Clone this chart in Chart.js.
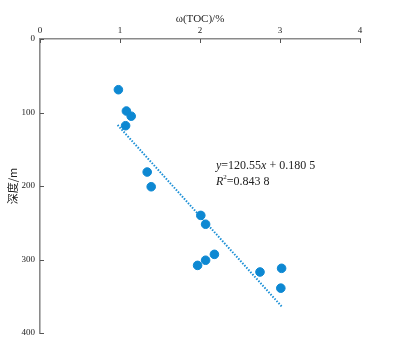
<!DOCTYPE html>
<html>
<head>
<meta charset="utf-8">
<script src="https://cdn.jsdelivr.net/npm/chart.js@4.4.1/dist/chart.umd.min.js"></script>
<style>
  html, body { margin: 0; padding: 0; background: #fff; }
  #wrap { width: 396px; height: 348px; position: relative; }
</style>
</head>
<body>
<div id="wrap"><canvas id="chart"></canvas></div>
<script>
// TOC (%) vs depth (m)
const tocValues = [0.98, 1.08, 1.14, 1.07, 1.34, 1.39, 2.01, 2.07, 1.97, 2.07, 2.18, 2.75, 3.02, 3.01];
const depthValues = [69, 98, 105, 118, 181, 201, 240, 252, 308, 301, 293, 317, 312, 339];
// ends of the dotted trend line
const trendToc = [0.97, 3.03];
const trendDepth = [117, 365];
const xTicks = [0, 1, 2, 3, 4];
const yTicks = [0, 100, 200, 300, 400];

const pointColor = '#0d88d2';
const axisColor = '#8a8a8a';
const serif = '"Liberation Serif", "DejaVu Serif", serif';

const points = tocValues.map((v, i) => ({ x: v, y: depthValues[i] }));
const trend = trendToc.map((v, i) => ({ x: v, y: trendDepth[i] }));

// small inward ticks plus the equation text
const extrasPlugin = {
    id: 'extras',
    afterDraw(chart) {
        const ctx = chart.ctx;
        const xs = chart.scales.x;
        const ys = chart.scales.y;
        ctx.save();
        ctx.strokeStyle = '#555';
        ctx.lineWidth = 1;
        xTicks.forEach(t => {
            const px = Math.round(xs.getPixelForValue(t)) + 0.5;
            ctx.beginPath();
            ctx.moveTo(px, ys.top);
            ctx.lineTo(px, ys.top + 4);
            ctx.stroke();
        });
        yTicks.forEach(t => {
            const py = Math.round(ys.getPixelForValue(t)) + 0.5;
            ctx.beginPath();
            ctx.moveTo(xs.left, py);
            ctx.lineTo(xs.left + 4, py);
            ctx.stroke();
        });

        // regression text
        ctx.fillStyle = '#222';
        ctx.textBaseline = 'middle';
        const tx = xs.getPixelForValue(2.2);
        const ty = ys.getPixelForValue(172);
        ctx.font = 'italic 12px ' + serif;
        ctx.fillText('y', tx, ty);
        let w = ctx.measureText('y').width;
        ctx.font = '12px ' + serif;
        ctx.fillText('=120.55', tx + w, ty);
        w += ctx.measureText('=120.55').width;
        ctx.font = 'italic 12px ' + serif;
        ctx.fillText('x', tx + w, ty);
        w += ctx.measureText('x').width;
        ctx.font = '12px ' + serif;
        ctx.fillText(' + 0.180 5', tx + w, ty);

        const ty2 = ys.getPixelForValue(194);
        ctx.font = 'italic 12px ' + serif;
        ctx.fillText('R', tx, ty2);
        w = ctx.measureText('R').width;
        ctx.font = '7px ' + serif;
        ctx.fillText('2', tx + w, ty2 - 4);
        w += ctx.measureText('2').width;
        ctx.font = '12px ' + serif;
        ctx.fillText('=0.843 8', tx + w, ty2);
        ctx.restore();
    }
};

new Chart(document.getElementById('chart'), {
    type: 'scatter',
    data: {
        datasets: [
            {
                label: 'TOC',
                data: points,
                backgroundColor: pointColor,
                borderColor: pointColor,
                pointRadius: 4.3,
                pointHoverRadius: 4.3
            },
            {
                type: 'line',
                label: 'trend',
                data: trend,
                borderColor: '#1a8fd6',
                borderWidth: 2,
                borderDash: [1.5, 1.5],
                pointRadius: 0,
                fill: false
            }
        ]
    },
    options: {
        responsive: true,
        maintainAspectRatio: false,
        animation: false,
        layout: { padding: { left: 0, top: 0, right: 36, bottom: 15 } },
        plugins: {
            legend: { display: false },
            tooltip: { enabled: false }
        },
        scales: {
            x: {
                type: 'linear',
                position: 'top',
                min: 0,
                max: 4,
                afterBuildTicks: s => { s.ticks = xTicks.map(v => ({ value: v })); },
                afterFit: s => { s.height = 39; },
                grid: { display: true, drawOnChartArea: false, drawTicks: false },
                border: { color: axisColor, width: 1.6 },
                ticks: {
                    color: '#222',
                    padding: 3,
                    maxRotation: 0,
                    font: { family: serif, size: 9 }
                },
                title: {
                    display: true,
                    text: 'ω(TOC)/%',
                    color: '#222',
                    padding: { top: 13, bottom: 0 },
                    font: { family: serif, size: 11 }
                }
            },
            y: {
                type: 'linear',
                reverse: true,
                min: 0,
                max: 400,
                afterBuildTicks: s => { s.ticks = yTicks.map(v => ({ value: v })); },
                afterFit: s => { s.width = 40; },
                grid: { display: true, drawOnChartArea: false, drawTicks: false },
                border: { color: axisColor, width: 1.6 },
                ticks: {
                    color: '#222',
                    padding: 5,
                    font: { family: serif, size: 9 }
                },
                title: {
                    display: true,
                    text: '深度/m',
                    color: '#222',
                    padding: { top: 6, bottom: 0 },
                    font: { family: '"Noto Sans CJK SC", serif', size: 11 }
                }
            }
        }
    },
    plugins: [extrasPlugin]
});
</script>
</body>
</html>
